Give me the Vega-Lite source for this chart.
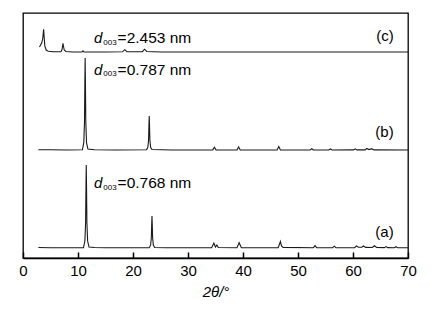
{
  "$schema": "https://vega.github.io/schema/vega-lite/v6.json",
  "width": 385,
  "height": 245,
  "autosize": "none",
  "padding": {"left": 23, "top": 13, "right": 31, "bottom": 57},
  "config": {"view": {"stroke": "#000", "strokeWidth": 1.3}, "font": "Liberation Sans"},
  "layer": [
    {
      "data": {"values": [
        {"s":"a","x":2.8,"y":10.5},{"s":"a","x":5,"y":10.3},{"s":"a","x":8,"y":10.2},{"s":"a","x":10,"y":10.3},{"s":"a","x":11.0,"y":10.4},
        {"s":"a","x":11.25,"y":17},{"s":"a","x":11.38,"y":35},{"s":"a","x":11.45,"y":72},{"s":"a","x":11.5,"y":93},{"s":"a","x":11.55,"y":72},{"s":"a","x":11.62,"y":35},{"s":"a","x":11.75,"y":17},{"s":"a","x":12.0,"y":11},
        {"s":"a","x":13,"y":10.5},{"s":"a","x":15,"y":10.3},{"s":"a","x":18,"y":10.2},{"s":"a","x":21,"y":10.2},{"s":"a","x":22.95,"y":10.3},
        {"s":"a","x":23.2,"y":12.8},{"s":"a","x":23.33,"y":20},{"s":"a","x":23.4,"y":34},{"s":"a","x":23.45,"y":42},{"s":"a","x":23.5,"y":34},{"s":"a","x":23.57,"y":20},{"s":"a","x":23.7,"y":12.8},{"s":"a","x":23.95,"y":10.5},
        {"s":"a","x":26,"y":10.2},{"s":"a","x":30,"y":10.2},{"s":"a","x":34.3,"y":10.3},{"s":"a","x":34.7,"y":15},{"s":"a","x":35.0,"y":11},{"s":"a","x":35.25,"y":13},{"s":"a","x":35.5,"y":10.5},
        {"s":"a","x":38.9,"y":10.3},{"s":"a","x":39.3,"y":15.3},{"s":"a","x":39.7,"y":10.3},{"s":"a","x":43,"y":10.2},{"s":"a","x":46.4,"y":10.3},{"s":"a","x":46.8,"y":16.5},{"s":"a","x":47.0,"y":12},{"s":"a","x":47.3,"y":10.6},
        {"s":"a","x":52.8,"y":10.3},{"s":"a","x":53.1,"y":12.3},{"s":"a","x":53.4,"y":10.3},{"s":"a","x":56.3,"y":10.3},{"s":"a","x":56.6,"y":11.8},{"s":"a","x":56.9,"y":10.3},
        {"s":"a","x":60.3,"y":10.4},{"s":"a","x":60.6,"y":12},{"s":"a","x":61.0,"y":10.8},{"s":"a","x":61.6,"y":10.7},{"s":"a","x":61.9,"y":12},{"s":"a","x":62.3,"y":10.6},{"s":"a","x":63.5,"y":10.5},{"s":"a","x":63.9,"y":12.2},{"s":"a","x":64.3,"y":10.5},
        {"s":"a","x":65.7,"y":10.4},{"s":"a","x":66.0,"y":11.4},{"s":"a","x":66.3,"y":10.4},{"s":"a","x":67.5,"y":10.3},{"s":"a","x":67.8,"y":11.3},{"s":"a","x":68.1,"y":10.3},{"s":"a","x":70,"y":10.3},

        {"s":"b","x":2.8,"y":108.3},{"s":"b","x":5,"y":108.2},{"s":"b","x":8,"y":108},{"s":"b","x":10.8,"y":108.2},
        {"s":"b","x":11.05,"y":115.4},{"s":"b","x":11.18,"y":135.6},{"s":"b","x":11.25,"y":177},{"s":"b","x":11.3,"y":200},{"s":"b","x":11.35,"y":177},{"s":"b","x":11.42,"y":135.6},{"s":"b","x":11.55,"y":115.4},{"s":"b","x":11.8,"y":109},
        {"s":"b","x":13,"y":108.3},{"s":"b","x":17,"y":108},{"s":"b","x":22.45,"y":108.2},
        {"s":"b","x":22.7,"y":110.7},{"s":"b","x":22.83,"y":118},{"s":"b","x":22.9,"y":133.5},{"s":"b","x":22.95,"y":142},{"s":"b","x":23.0,"y":133.5},{"s":"b","x":23.07,"y":118},{"s":"b","x":23.2,"y":110.7},{"s":"b","x":23.45,"y":108.5},
        {"s":"b","x":27,"y":108},{"s":"b","x":34.5,"y":108.1},{"s":"b","x":34.8,"y":110.8},{"s":"b","x":35.1,"y":108.1},{"s":"b","x":38.9,"y":108},{"s":"b","x":39.2,"y":111},{"s":"b","x":39.5,"y":108},
        {"s":"b","x":46.2,"y":108},{"s":"b","x":46.5,"y":111.5},{"s":"b","x":46.8,"y":108},{"s":"b","x":52.2,"y":108},{"s":"b","x":52.5,"y":109.2},{"s":"b","x":52.8,"y":108},
        {"s":"b","x":55.6,"y":108},{"s":"b","x":55.9,"y":109},{"s":"b","x":56.2,"y":108},{"s":"b","x":60.1,"y":108.1},{"s":"b","x":60.4,"y":109.2},{"s":"b","x":60.7,"y":108.1},
        {"s":"b","x":62.2,"y":108.1},{"s":"b","x":62.5,"y":109.5},{"s":"b","x":62.9,"y":108.4},{"s":"b","x":63.4,"y":109.3},{"s":"b","x":63.8,"y":108.1},{"s":"b","x":70,"y":108},

        {"s":"c","x":3.0,"y":211},{"s":"c","x":3.4,"y":215},{"s":"c","x":3.6,"y":220},{"s":"c","x":3.75,"y":228.7},{"s":"c","x":3.85,"y":221},{"s":"c","x":3.97,"y":212},{"s":"c","x":4.2,"y":208},{"s":"c","x":4.6,"y":206.8},
        {"s":"c","x":5.5,"y":206.2},{"s":"c","x":6.9,"y":206.3},{"s":"c","x":7.1,"y":208.5},{"s":"c","x":7.2,"y":212},{"s":"c","x":7.27,"y":214.7},{"s":"c","x":7.35,"y":212},{"s":"c","x":7.5,"y":208},{"s":"c","x":7.8,"y":206.5},
        {"s":"c","x":9,"y":206},{"s":"c","x":10.7,"y":206},{"s":"c","x":10.9,"y":207.2},{"s":"c","x":11.1,"y":206},{"s":"c","x":15,"y":206},
        {"s":"c","x":18.1,"y":206.2},{"s":"c","x":18.5,"y":208.3},{"s":"c","x":18.9,"y":206.4},{"s":"c","x":21.7,"y":206.3},{"s":"c","x":22.1,"y":208.8},{"s":"c","x":22.5,"y":206.5},
        {"s":"c","x":25,"y":206},{"s":"c","x":40,"y":206},{"s":"c","x":55,"y":206},{"s":"c","x":70,"y":206}
      ]},
      "mark": {"type": "line", "color": "#1a1a1a", "strokeWidth": 1.1, "interpolate": "linear"},
      "encoding": {
        "x": {"field": "x", "type": "quantitative", "scale": {"domain": [0, 70], "nice": false},
          "axis": {"values": [0,10,20,30,40,50,60,70], "title": "2θ/°", "titleFontStyle": "italic", "titleFontWeight": "normal", "titleFontSize": 15, "titleColor": "#000", "titlePadding": 6,
            "labelFontSize": 15, "labelColor": "#000", "labelPadding": 11, "tickSize": -6, "tickColor": "#000", "tickWidth": 1.5, "domainColor": "#000", "domainWidth": 1.5, "grid": false, "labelFlush": false}},
        "y": {"field": "y", "type": "quantitative", "scale": {"domain": [0, 245], "nice": false}, "axis": null},
        "detail": {"field": "s"}
      }
    },
    {
      "data": {"values": [{"x":12.9,"y":214.7,"t":"d"},{"x":12.9,"y":183,"t":"d"},{"x":12.9,"y":69.7,"t":"d"}]},
      "mark": {"type": "text", "align": "left", "baseline": "alphabetic", "fontSize": 15, "fontStyle": "italic", "color": "#000"},
      "encoding": {"x": {"field": "x", "type": "quantitative"}, "y": {"field": "y", "type": "quantitative"}, "text": {"field": "t"}}
    },
    {
      "data": {"values": [{"x":14.6,"y":213.3,"t":"003"},{"x":14.6,"y":181.6,"t":"003"},{"x":14.6,"y":68.3,"t":"003"}]},
      "mark": {"type": "text", "align": "left", "baseline": "alphabetic", "fontSize": 8, "color": "#000"},
      "encoding": {"x": {"field": "x", "type": "quantitative"}, "y": {"field": "y", "type": "quantitative"}, "text": {"field": "t"}}
    },
    {
      "data": {"values": [{"x":17.2,"y":214.7,"t":"=2.453 nm"},{"x":17.2,"y":183,"t":"=0.787 nm"},{"x":17.2,"y":69.7,"t":"=0.768 nm"}]},
      "mark": {"type": "text", "align": "left", "baseline": "alphabetic", "fontSize": 15.5, "color": "#000"},
      "encoding": {"x": {"field": "x", "type": "quantitative"}, "y": {"field": "y", "type": "quantitative"}, "text": {"field": "t"}}
    },
    {
      "data": {"values": [{"x":67.4,"y":222.3,"t":"(c)"},{"x":67.4,"y":126.3,"t":"(b)"},{"x":67.4,"y":26.3,"t":"(a)"}]},
      "mark": {"type": "text", "align": "right", "baseline": "middle", "fontSize": 15, "color": "#000"},
      "encoding": {"x": {"field": "x", "type": "quantitative"}, "y": {"field": "y", "type": "quantitative"}, "text": {"field": "t"}}
    }
  ]
}
